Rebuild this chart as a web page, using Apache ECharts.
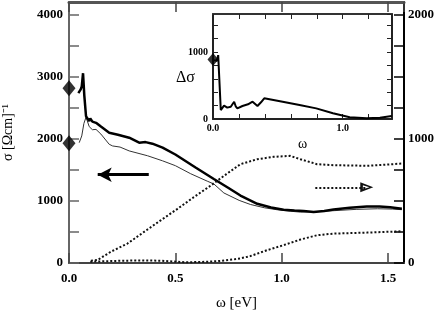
<!DOCTYPE html>
<html>
<head>
<meta charset="utf-8">
<script src="https://cdn.jsdelivr.net/npm/echarts@6/dist/echarts.min.js"></script>
<style>
  html, body { margin: 0; padding: 0; background: #fff; }
  #main { width: 436px; height: 320px; }
</style>
</head>
<body>
<div id="main"></div>
<script>
// main panel, left axis: sigma [Ohm cm]^-1
var omegaThick = [0.044, 0.055, 0.06, 0.066, 0.072, 0.08, 0.087, 0.095, 0.1, 0.11, 0.127, 0.15, 0.189, 0.23, 0.283, 0.33, 0.36, 0.392, 0.44, 0.5, 0.595, 0.681, 0.75, 0.806, 0.885, 0.95, 1.009, 1.06, 1.103, 1.15, 1.2, 1.244, 1.32, 1.4, 1.46, 1.51, 1.565];
var sigmaThick = [2741, 2800, 2850, 3061, 2700, 2368, 2330, 2290, 2330, 2280, 2261, 2200, 2101, 2070, 2021, 1941, 1950, 1925, 1861, 1750, 1541, 1355, 1210, 1088, 955, 895, 859, 845, 837, 821, 840, 864, 890, 912, 910, 901, 875];

var omegaThin = [0.048, 0.06, 0.07, 0.08, 0.086, 0.095, 0.11, 0.127, 0.15, 0.189, 0.205, 0.24, 0.283, 0.369, 0.44, 0.5, 0.572, 0.65, 0.681, 0.728, 0.8, 0.853, 0.92, 0.978, 1.04, 1.088, 1.15, 1.25, 1.35, 1.45, 1.52, 1.565];
var sigmaThin = [1941, 2050, 2250, 2352, 2330, 2200, 2150, 2155, 2080, 1915, 1888, 1870, 1808, 1730, 1648, 1570, 1440, 1320, 1275, 1130, 1010, 944, 890, 859, 835, 821, 825, 845, 865, 875, 870, 860];

// main panel, right axis (dotted)
var omegaDotUp = [0.103, 0.134, 0.197, 0.275, 0.353, 0.431, 0.51, 0.587, 0.666, 0.74, 0.806, 0.885, 0.962, 1.04, 1.088, 1.166, 1.244, 1.4, 1.477, 1.565];
var valDotUp = [19, 24, 91, 157, 251, 344, 437, 531, 624, 717, 797, 837, 856, 864, 837, 797, 789, 784, 792, 802];

var omegaDotLow = [0.1, 0.2, 0.3, 0.43, 0.55, 0.62, 0.7, 0.775, 0.806, 0.853, 0.932, 1.009, 1.088, 1.166, 1.244, 1.4, 1.565];
var valDotLow = [10, 16, 20, 19, 6, 8, 15, 29, 37, 56, 104, 144, 189, 224, 237, 245, 256];

// diamonds at omega = 0
var diamondMain = [2820, 1930];
var diamondInset = [890];

// inset: delta sigma
var omegaInset = [0.008, 0.02, 0.03, 0.04, 0.06, 0.072, 0.085, 0.098, 0.11, 0.137, 0.163, 0.175, 0.188, 0.227, 0.27, 0.305, 0.343, 0.37, 0.395, 0.537, 0.667, 0.796, 0.925, 1.054, 1.184, 1.287, 1.378];
var deltaInset = [880, 900, 870, 955, 134, 109, 200, 209, 170, 184, 258, 190, 159, 194, 220, 258, 194, 250, 309, 258, 209, 159, 85, 25, 10, 20, 45];

// annotation arrows (data coords)
var arrowLeft = [[0.375, 1424], [0.135, 1424]];
var arrowRight = [[1.158, 610], [1.40, 610]];

function zip(xs, ys) {
    return xs.map(function (x, i) { return [x, ys[i]]; });
}

var serif = 'Liberation Serif';
var lbl = { fontFamily: serif, fontWeight: 'bold', fontSize: 13, color: '#000' };
var lblSmall = { fontFamily: serif, fontWeight: 'bold', fontSize: 10, color: '#000' };

var chart = echarts.init(document.getElementById('main'));
var option = {
    animation: false,
    backgroundColor: '#fff',
    grid: [
        { left: 69, right: 32, top: 2, bottom: 57, containLabel: false, outerBoundsMode: 'none' },
        { left: 213, right: 44, top: 14, bottom: 201, containLabel: false, outerBoundsMode: 'none' }
    ],
    xAxis: [
        {
            gridIndex: 0, type: 'value', min: 0, max: 1.575, interval: 0.5,
            name: 'ω [eV]', nameLocation: 'middle', nameGap: 33,
            nameTextStyle: { fontFamily: serif, fontSize: 15, color: '#000' },
            axisLine: { onZero: false, lineStyle: { color: '#444', width: 2 } },
            axisTick: { inside: true, length: 10, lineStyle: { color: '#444', width: 1.5 } },
            axisLabel: Object.assign({ margin: 9, formatter: function (v) { return v.toFixed(1); } }, lbl),
            splitLine: { show: false }
        },
        {
            gridIndex: 0, type: 'value', position: 'top', min: 0, max: 1.575, interval: 0.5,
            axisLine: { onZero: false, lineStyle: { color: '#555', width: 3 } },
            axisTick: { inside: true, length: 10, lineStyle: { color: '#444', width: 1.5 } },
            axisLabel: { show: false },
            splitLine: { show: false }
        },
        {
            gridIndex: 1, type: 'value', min: 0, max: 1.38, interval: 0.2,
            name: 'ω', nameLocation: 'middle', nameGap: 18,
            nameTextStyle: { fontFamily: serif, fontSize: 14, color: '#000' },
            axisLine: { onZero: false, lineStyle: { color: '#222', width: 2 } },
            axisTick: { inside: true, length: 5, lineStyle: { color: '#222', width: 1 } },
            axisLabel: Object.assign({ margin: 4, formatter: function (v) {
                if (Math.abs(v) < 1e-6) return '0.0';
                if (Math.abs(v - 1) < 1e-6) return '1.0';
                return '';
            } }, lblSmall),
            splitLine: { show: false }
        },
        {
            gridIndex: 1, type: 'value', position: 'top', min: 0, max: 1.38, interval: 0.2,
            axisLine: { onZero: false, lineStyle: { color: '#333', width: 2 } },
            axisTick: { inside: true, length: 5, lineStyle: { color: '#222', width: 1 } },
            axisLabel: { show: false },
            splitLine: { show: false }
        }
    ],
    yAxis: [
        {
            gridIndex: 0, type: 'value', min: 0, max: 4210, interval: 500,
            name: 'σ [Ωcm]⁻¹', nameLocation: 'middle', nameGap: 54,
            nameTextStyle: { fontFamily: serif, fontSize: 14, color: '#000' },
            axisLine: { onZero: false, lineStyle: { color: '#666', width: 2 } },
            axisTick: { inside: true, length: 10, lineStyle: { color: '#666', width: 1.5 } },
            axisLabel: Object.assign({ margin: 6, showMaxLabel: false, formatter: function (v) {
                return v % 1000 === 0 ? String(v) : '';
            } }, lbl),
            splitLine: { show: false }
        },
        {
            gridIndex: 0, type: 'value', position: 'right', min: 0, max: 2105, interval: 250,
            axisLine: { show: true, onZero: false, lineStyle: { color: '#000', width: 2 } },
            axisTick: { inside: true, length: 10, lineStyle: { color: '#000', width: 1.5 } },
            axisLabel: Object.assign({ margin: 4, showMaxLabel: false, formatter: function (v) {
                return v % 1000 === 0 ? String(v) : '';
            } }, lbl),
            splitLine: { show: false }
        },
        {
            gridIndex: 1, type: 'value', min: 0, max: 1570, interval: 200,
            axisLine: { onZero: false, lineStyle: { color: '#222', width: 2 } },
            axisTick: { inside: true, length: 5, lineStyle: { color: '#222', width: 1 } },
            axisLabel: Object.assign({ margin: 5, showMaxLabel: false, formatter: function (v) {
                return (v === 0 || v === 1000) ? String(v) : '';
            } }, lblSmall),
            splitLine: { show: false }
        },
        {
            gridIndex: 1, type: 'value', position: 'right', min: 0, max: 1570, interval: 200,
            axisLine: { show: true, onZero: false, lineStyle: { color: '#222', width: 2 } },
            axisTick: { inside: true, length: 5, lineStyle: { color: '#222', width: 1 } },
            axisLabel: { show: false },
            splitLine: { show: false }
        }
    ],
    graphic: [
        {
            type: 'text', left: 176, top: 70,
            style: { text: 'Δσ', fontFamily: serif, fontSize: 16, fill: '#000' }
        }
    ],
    series: [
        {
            name: 'thin', type: 'line', xAxisIndex: 0, yAxisIndex: 0,
            data: zip(omegaThin, sigmaThin), showSymbol: false,
            lineStyle: { color: '#333', width: 1 }
        },
        {
            name: 'thick', type: 'line', xAxisIndex: 0, yAxisIndex: 0,
            data: zip(omegaThick, sigmaThick), showSymbol: false,
            lineStyle: { color: '#000', width: 2.5 },
            markLine: {
                silent: true, symbol: ['none', 'arrow'], symbolSize: [11, 14],
                label: { show: false },
                lineStyle: { color: '#000', width: 3, type: 'solid' },
                data: [[{ coord: arrowLeft[0] }, { coord: arrowLeft[1] }]]
            }
        },
        {
            name: 'dotUp', type: 'line', xAxisIndex: 0, yAxisIndex: 1,
            data: zip(omegaDotUp, valDotUp), showSymbol: false,
            lineStyle: { color: '#111', width: 2, type: [2, 2] },
            markLine: {
                silent: true,
                symbol: ['none', 'path://M5,0 L10,10 L0,10 Z M5,3 L3,8 L7,8 Z'],
                symbolSize: [10, 13],
                label: { show: false },
                lineStyle: { color: '#111', width: 2, type: [2, 2] },
                data: [[{ coord: arrowRight[0] }, { coord: arrowRight[1] }]]
            }
        },
        {
            name: 'dotLow', type: 'line', xAxisIndex: 0, yAxisIndex: 1,
            data: zip(omegaDotLow, valDotLow), showSymbol: false,
            lineStyle: { color: '#111', width: 2, type: [2, 2] }
        },
        {
            name: 'diamonds', type: 'scatter', xAxisIndex: 0, yAxisIndex: 0,
            data: diamondMain.map(function (v) { return [0, v]; }),
            symbol: 'diamond', symbolSize: [13, 16], clip: false, z: 5,
            itemStyle: { color: '#000' }
        },
        {
            name: 'inset', type: 'line', xAxisIndex: 2, yAxisIndex: 2,
            data: zip(omegaInset, deltaInset), showSymbol: false,
            lineStyle: { color: '#000', width: 2 }
        },
        {
            name: 'insetDiamond', type: 'scatter', xAxisIndex: 2, yAxisIndex: 2,
            data: diamondInset.map(function (v) { return [0, v]; }),
            symbol: 'diamond', symbolSize: [11, 13], clip: false, z: 5,
            itemStyle: { color: '#000' }
        }
    ]
};
chart.setOption(option);
</script>
</body>
</html>
